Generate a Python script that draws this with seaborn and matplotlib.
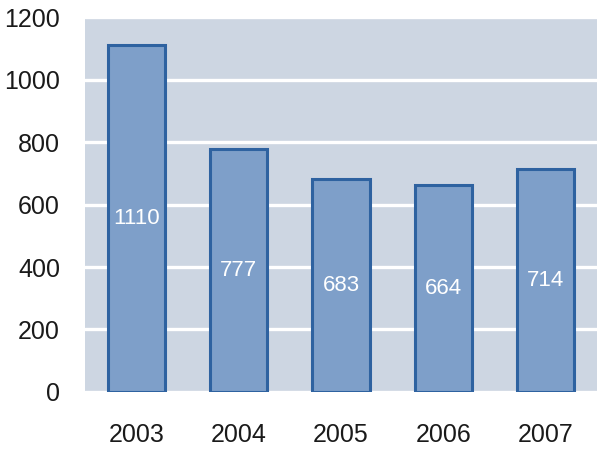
import numpy as np
import pandas as pd
import matplotlib
matplotlib.use("Agg")
import matplotlib.pyplot as plt
import seaborn as sns

years = ["2003", "2004", "2005", "2006", "2007"]
counts = [1110, 777, 683, 664, 714]
yticks = [0, 200, 400, 600, 800, 1000, 1200]

df = pd.DataFrame({"year": years, "count": counts})

sns.set_style("white")
plt.rcParams["font.family"] = ["Liberation Sans", "DejaVu Sans"]

fig = plt.figure(figsize=(6.03, 4.49), dpi=100)
ax = fig.add_axes([0.141, 0.127, 0.849, 0.835])
ax.set_facecolor("#cdd6e2")

sns.barplot(data=df, x="year", y="count", ax=ax, color="#7e9fc9",
            edgecolor="#2e62a0", linewidth=2.2, width=0.56, saturation=1)

ax.set_ylim(0, 1200)
ax.set_yticks(yticks)
ax.yaxis.grid(True, color="white", linewidth=2.4)
ax.set_axisbelow(True)
for s in ax.spines.values():
    s.set_visible(False)

ax.set_xlabel("")
ax.set_ylabel("")
ax.tick_params(axis="both", length=0, labelsize=18, colors="#1a1a1a")
ax.tick_params(axis="x", pad=22)
ax.tick_params(axis="y", pad=18)

# value labels in the middle of each bar
for i, v in enumerate(counts):
    ax.text(i, v / 2, str(v), ha="center", va="center", color="white", fontsize=16)

fig.savefig("out.png", dpi=100)
